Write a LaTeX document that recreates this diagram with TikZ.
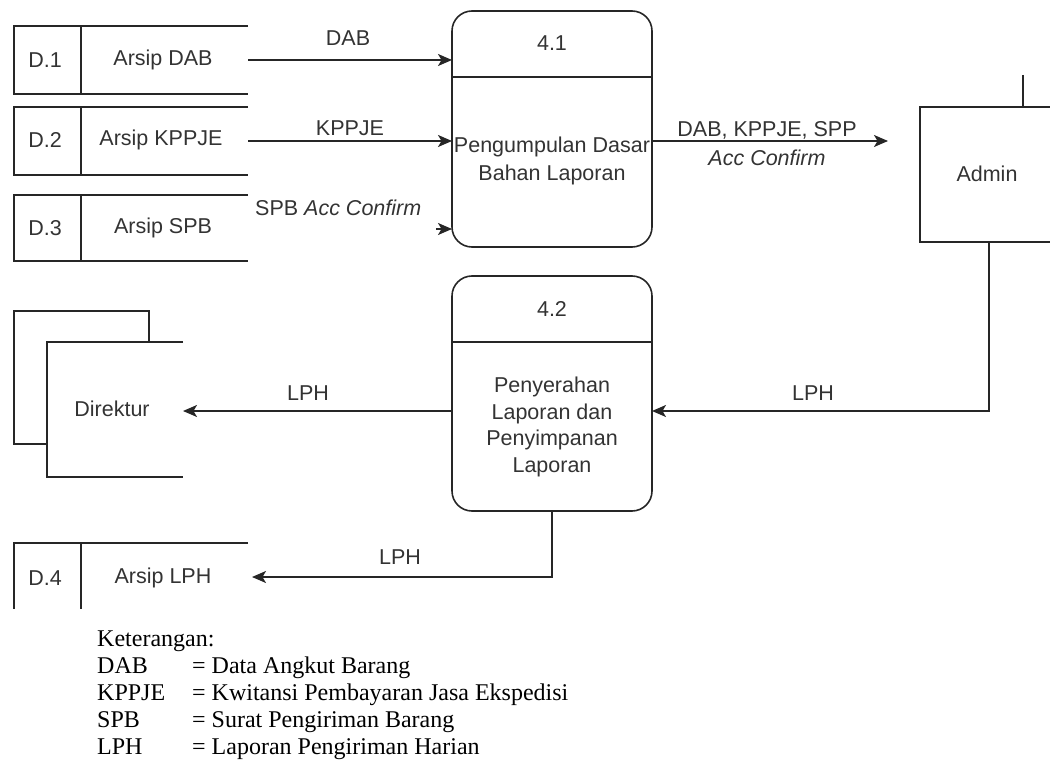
\documentclass[tikz,border=0pt]{standalone}
\usepackage{fontspec}
\setmainfont{Liberation Serif}
\newfontfamily\dsans{Liberation Sans}
\usetikzlibrary{arrows.meta}
\begin{document}
\begin{tikzpicture}[x=1pt,y=-1pt,
 ln/.style={line width=1.6pt, draw=black!85},
 arr/.style={ln, -{Stealth[length=14pt,width=12pt,inset=3.5pt]}},
 lbl/.style={font=\dsans\fontsize{21.5}{27.5}\selectfont, text=black!80, inner sep=0pt},
 legend/.style={font=\fontsize{24}{27}\selectfont, anchor=base west, inner sep=0pt},
 box/.style={draw=none, inner sep=0pt, outer sep=0pt},
 proc/.style={ln, draw, rounded corners=20pt, inner sep=0pt, outer sep=0pt, minimum width=200pt}
]
\useasboundingbox (0,0) rectangle (1050,762);

% data stores
\node[box, minimum width=234pt, minimum height=68pt] (d1) at (131,60) {};
\draw[ln] (d1.north east) -- (d1.north west) -- (d1.south west) -- (d1.south east);
\draw[ln] ([xshift=67pt]d1.north west) -- ([xshift=67pt]d1.south west);
\node[lbl] (d1id) at (45,60) {D.1};
\node[lbl] (d1nm) at (163,60) {Arsip DAB};

\node[box, minimum width=234pt, minimum height=68pt] (d2) at (131,141) {};
\draw[ln] (d2.north east) -- (d2.north west) -- (d2.south west) -- (d2.south east);
\draw[ln] ([xshift=67pt]d2.north west) -- ([xshift=67pt]d2.south west);
\node[lbl] (d2id) at (45,140) {D.2};
\node[lbl] (d2nm) at (161,140) {Arsip KPPJE};

\node[box, minimum width=234pt, minimum height=66pt] (d3) at (131,228) {};
\draw[ln] (d3.north east) -- (d3.north west) -- (d3.south west) -- (d3.south east);
\draw[ln] ([xshift=67pt]d3.north west) -- ([xshift=67pt]d3.south west);
\node[lbl] (d3id) at (45,228) {D.3};
\node[lbl] (d3nm) at (163,228) {Arsip SPB};

\node[box, minimum width=234pt, minimum height=68pt] (d4) at (131,577) {};
\draw[ln] (d4.north east) -- (d4.north west) -- ([yshift=2pt]d4.south west);
\draw[ln] ([xshift=67pt]d4.north west) -- ([xshift=67pt,yshift=2pt]d4.south west);
\node[lbl] (d4id) at (45,578) {D.4};
\node[lbl] (d4nm) at (163,578) {Arsip LPH};

% processes
\node[proc, minimum height=236pt] (p1) at (552,129) {};
\coordinate (p1div) at (0,77);
\draw[ln] (p1.west |- p1div) -- (p1.east |- p1div);
\node[lbl] (p1id) at (552,43) {4.1};
\node[lbl, align=center] (p1nm) at (552,161) {Pengumpulan Dasar\\Bahan Laporan};

\node[proc, minimum height=235pt] (p2) at (552,393.5) {};
\coordinate (p2div) at (0,342);
\draw[ln] (p2.west |- p2div) -- (p2.east |- p2div);
\node[lbl] (p2id) at (552,309) {4.2};
\node[lbl, align=center, font=\dsans\fontsize{21.5}{26.7}\selectfont] (p2nm) at (552,427) {Penyerahan\\Laporan dan\\Penyimpanan\\Laporan};

% Admin
\node[box, minimum width=160pt, minimum height=135pt] (adm) at (1000,174.5) {};
\coordinate (re) at (1050,0);
\draw[ln] (adm.north west -| re) -- (adm.north west) -- (adm.south west) -- (adm.south west -| re);
\coordinate (admtop) at (1023,75);
\draw[ln] (admtop) -- (admtop |- adm.north);
\node[lbl] (admt) at (987,174) {Admin};

% Direktur
\node[box, minimum width=136pt, minimum height=135pt] (dir) at (115,409.5) {};
\draw[ln] (dir.north east) -- (dir.north west) -- (dir.south west) -- (dir.south east);
\coordinate (dirb1) at (14,311);
\coordinate (dirb2) at (149,444);
\draw[ln] (dir.west |- dirb2) -- (dirb1 |- dirb2) -- (dirb1) -- (dirb2 |- dirb1) -- (dirb2 |- dir.north);
\node[lbl] (dirt) at (112,409) {Direktur};

% flows
\draw[arr] (d1.east) -- (p1.west |- d1.east);
\draw[arr] (d2.east) -- (p1.west |- d2.east);
\coordinate (d3s) at (436,229);
\draw[arr] (d3s) -- (p1.west |- d3s);
\draw[arr, shorten >=32pt] (p1.east |- d2.east) -- (adm.west |- d2.east);
\coordinate (lphy) at (0,411);
\draw[arr] ([xshift=69pt]adm.south west) |- (p2.east |- lphy);
\draw[arr] (p2.west |- lphy) -- (dir.east |- lphy);
\draw[arr] (p2.south) |- ([xshift=4pt]d4.east);

% flow labels
\node[lbl] (l1) at (348,38) {DAB};
\node[lbl] (l2) at (350,128) {KPPJE};
\node[lbl, anchor=west] (l3) at (255,208) {SPB \textit{Acc Confirm}};
\node[lbl] (l4) at (767,130) {DAB, KPPJE, SPP};
\node[lbl] (l5) at (767,158) {\textit{Acc Confirm}};
\node[lbl] (l6) at (308,393) {LPH};
\node[lbl] (l7) at (813,393) {LPH};
\node[lbl] (l8) at (400,557) {LPH};

% legend
\node[legend] (k0) at (97,646) {Keterangan:};
\node[legend] (k1a) at (97,673) {DAB};
\node[legend] (k1b) at (192,673) {= Data Angkut Barang};
\node[legend] (k2a) at (97,700) {KPPJE};
\node[legend] (k2b) at (192,700) {= Kwitansi Pembayaran Jasa Ekspedisi};
\node[legend] (k3a) at (97,727) {SPB};
\node[legend] (k3b) at (192,727) {= Surat Pengiriman Barang};
\node[legend] (k4a) at (97,754) {LPH};
\node[legend] (k4b) at (192,754) {= Laporan Pengiriman Harian};
\end{tikzpicture}
\end{document}
